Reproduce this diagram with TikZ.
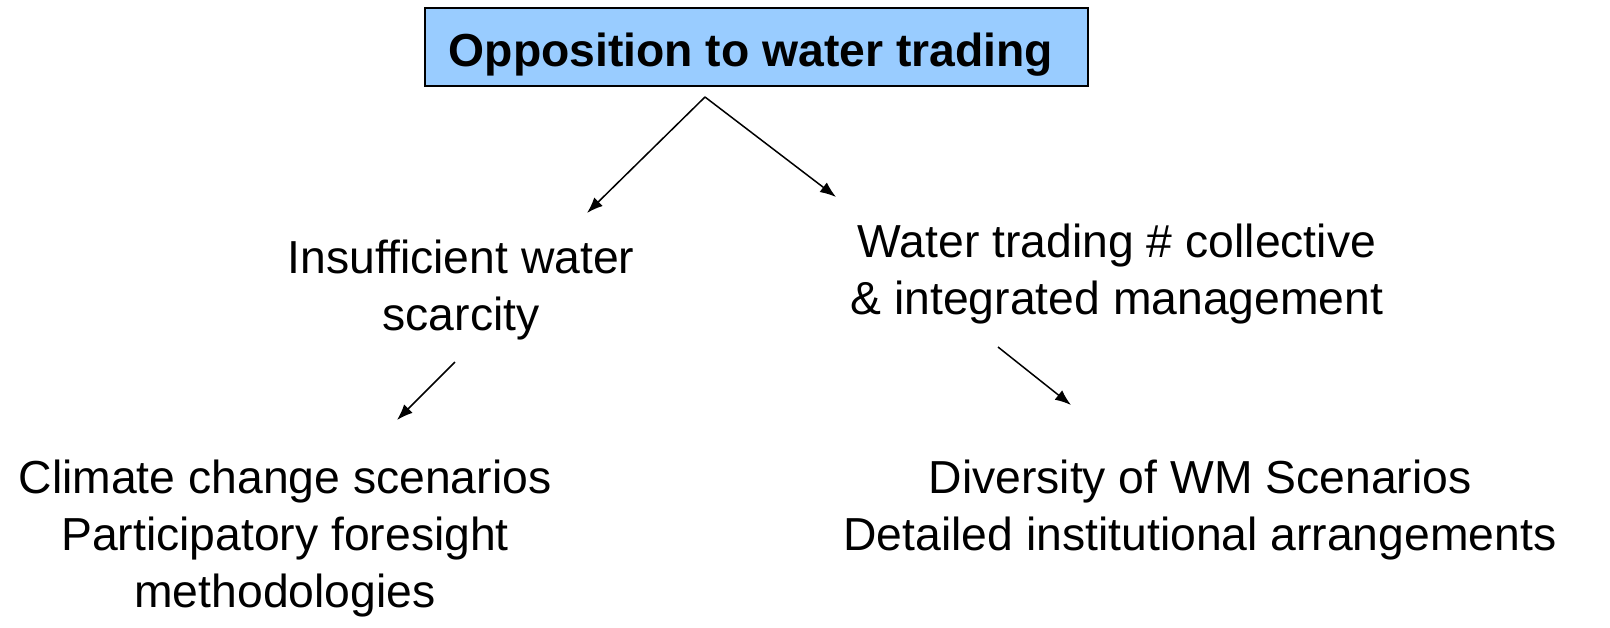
\documentclass[tikz,border=0pt]{standalone}
\usepackage{fontspec}
\setmainfont{Liberation Sans}
\usetikzlibrary{arrows.meta}
\definecolor{boxblue}{HTML}{99CCFF}
\tikzset{
  lbl/.style={font=\fontsize{46.3}{57}\selectfont, align=center, inner sep=0pt, anchor=base},
  titlebox/.style={draw=black, fill=boxblue, line width=1.5pt, inner sep=0pt},
  titletxt/.style={font=\fontsize{46.3}{57}\selectfont\bfseries, inner sep=0pt, anchor=base},
  arr/.style={line width=1.5pt, -{Latex[length=16pt,width=12pt]}}
}
\begin{document}
\begin{tikzpicture}[x=1pt,y=-1pt]
\useasboundingbox (0,0) rectangle (1610,627);
\node[titlebox, minimum width=663pt, minimum height=78pt] (box) at (756.5,47) {};
\node[titletxt] (title) at (751,66) {Opposition to water trading};
\node[lbl] (ins) at (461,330) {Insufficient water\\scarcity};
\node[lbl] (wt) at (1117,314) {Water trading \# collective\\\& integrated management};
\node[lbl] (cc) at (285,607) {Climate change scenarios\\Participatory foresight\\methodologies};
\node[lbl] (dv) at (1200,550) {Diversity of WM Scenarios\\Detailed institutional arrangements};
\coordinate (s0) at (705,97);
\coordinate (e1) at (587,213);
\coordinate (e2) at (836,197);
\coordinate (s3) at (455,362);
\coordinate (e3) at (397,420);
\coordinate (s4) at (998,347);
\coordinate (e4) at (1071,405);
\draw[arr] (s0) -- (e1);
\draw[arr] (s0) -- (e2);
\draw[arr] (s3) -- (e3);
\draw[arr] (s4) -- (e4);
\end{tikzpicture}
\end{document}
